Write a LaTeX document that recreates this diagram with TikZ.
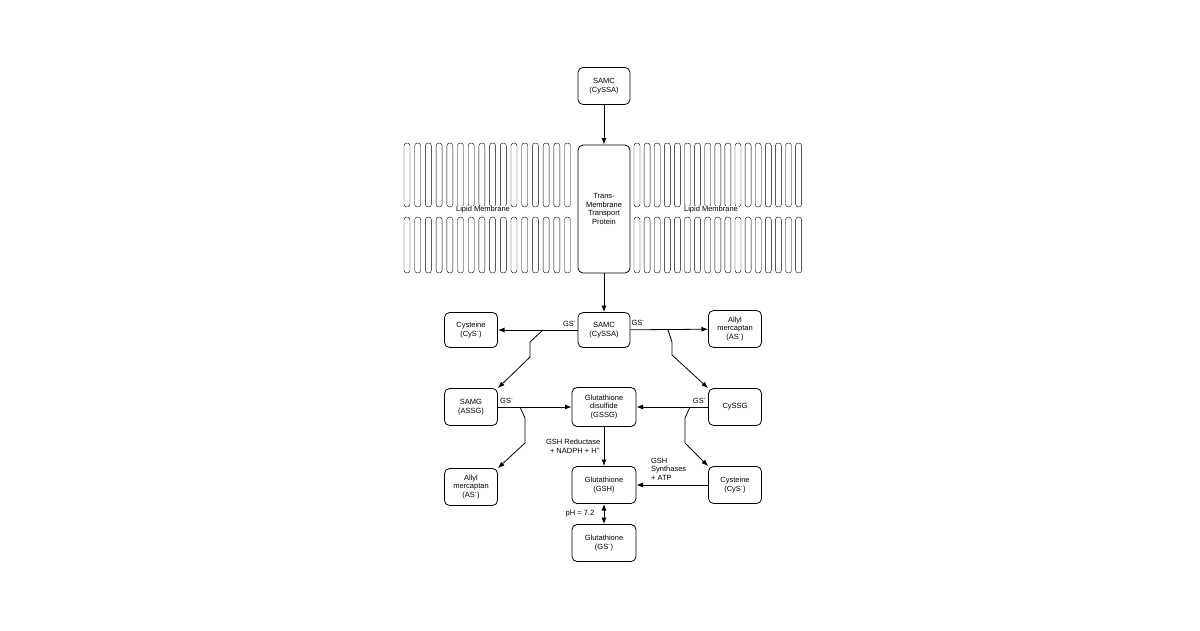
\documentclass[tikz,border=0pt]{standalone}
\usepackage{fontspec}
\setmainfont{Liberation Sans}
\usetikzlibrary{arrows.meta}
\newcommand{\ionm}{\textsuperscript{-}}
\newcommand{\ionp}{\textsuperscript{+}}
\begin{document}
\begin{tikzpicture}[
        x=1pt, y=-1pt,
        >=Latex,
        font=\fontsize{7.5}{8.5}\selectfont,
        box/.style={draw, thick, rounded corners=5pt, align=center, inner sep=2pt},
        lipid/.style={draw, thin, rounded corners=2.8pt},
        flow/.style={thick, ->}
    ]
    \useasboundingbox (0,0) rectangle (1200,630);

    % --- outside ---
    \node[box, minimum width=52pt, minimum height=37pt] (samcout) at (604,86) {SAMC\\(CySSA)};

    % --- membrane ---
    \foreach \x in {0,...,15} {
        \draw[lipid] (407+10.7*\x-3,143) rectangle (407+10.7*\x+3,207);
        \draw[lipid] (407+10.7*\x-3,217) rectangle (407+10.7*\x+3,273);
    }
    \foreach \x in {0,...,16} {
        \draw[lipid] (637+10.1*\x-3,143) rectangle (637+10.1*\x+3,207);
        \draw[lipid] (637+10.1*\x-3,217) rectangle (637+10.1*\x+3,273);
    }
    \node[fill=white, inner sep=1pt] (lml) at (483,210) {Lipid Membrane};
    \node[fill=white, inner sep=1pt] (lmr) at (711,210) {Lipid Membrane};
    \node[box, fill=white, minimum width=52pt, minimum height=128pt] (tmp) at (604,209) {Trans-\\Membrane\\Transport\\Protein};

    % --- inside ---
    \node[box, minimum width=52pt, minimum height=35pt] (samc) at (604,330) {SAMC\\(CySSA)};
    \node[box, minimum width=53pt, minimum height=35pt] (cys1) at (471,330) {Cysteine\\(CyS\ionm)};
    \node[box, minimum width=53pt, minimum height=37pt] (as1) at (735,329) {Allyl\\mercaptan\\(AS\ionm)};
    \node[box, minimum width=53pt, minimum height=37pt] (samg) at (471,407) {SAMG\\(ASSG)};
    \node[box, minimum width=64pt, minimum height=39pt] (gssg) at (604,407) {Glutathione\\disulfide\\(GSSG)};
    \node[box, minimum width=53pt, minimum height=37pt] (cyssg) at (735,407) {CySSG};
    \node[box, minimum width=53pt, minimum height=37pt] (as2) at (471,487) {Allyl\\mercaptan\\(AS\ionm)};
    \node[box, minimum width=64pt, minimum height=37pt] (gsh) at (604,485) {Glutathione\\(GSH)};
    \node[box, minimum width=53pt, minimum height=37pt] (cys2) at (735,485) {Cysteine\\(CyS\ionm)};
    \node[box, minimum width=64pt, minimum height=37pt] (gsm) at (604,543) {Glutathione\\(GS\ionm)};

    \coordinate (jl) at (543,330);
    \coordinate (jr) at (668,330);
    \coordinate (kl) at (520,407);
    \coordinate (kr) at (690,407);

    % transport
    \draw[flow] (samcout) -- (tmp);
    \draw[flow] (tmp) -- (samc);

    % cleavage by GS-
    \draw[flow] (samc) -- node[pos=0.1, above] {GS\ionm} (cys1);
    \draw[flow] (samc) -- node[pos=0.1, above] {GS\ionm} (as1);
    \draw[flow] (jl) -- (530,342) -- (530,357) -- (samg.north east);
    \draw[flow] (jr) -- (672,342) -- (672,355) -- (cyssg.north west);

    \draw[flow] (samg) -- node[pos=0.12, above] {GS\ionm} (gssg);
    \draw[flow] (cyssg) -- node[pos=0.12, above] {GS\ionm} (gssg);
    \draw[flow] (kl) -- (525,418) -- (525,443) -- (as2.north east);
    \draw[flow] (kr) -- (685,418) -- (685,443) -- (cys2.north west);

    % glutathione
    \draw[flow] (gssg) -- node[left, align=right] {GSH Reductase\\+ NADPH + H\ionp} (gsh);
    \draw[flow] (cys2) -- node[pos=0.55, above, align=left, yshift=1pt] {GSH\\Synthases\\+ ATP} (gsh);
    \draw[thick, <->] (gsh) -- node[left, xshift=-6pt] {pH = 7.2} (gsm);
\end{tikzpicture}
\end{document}
